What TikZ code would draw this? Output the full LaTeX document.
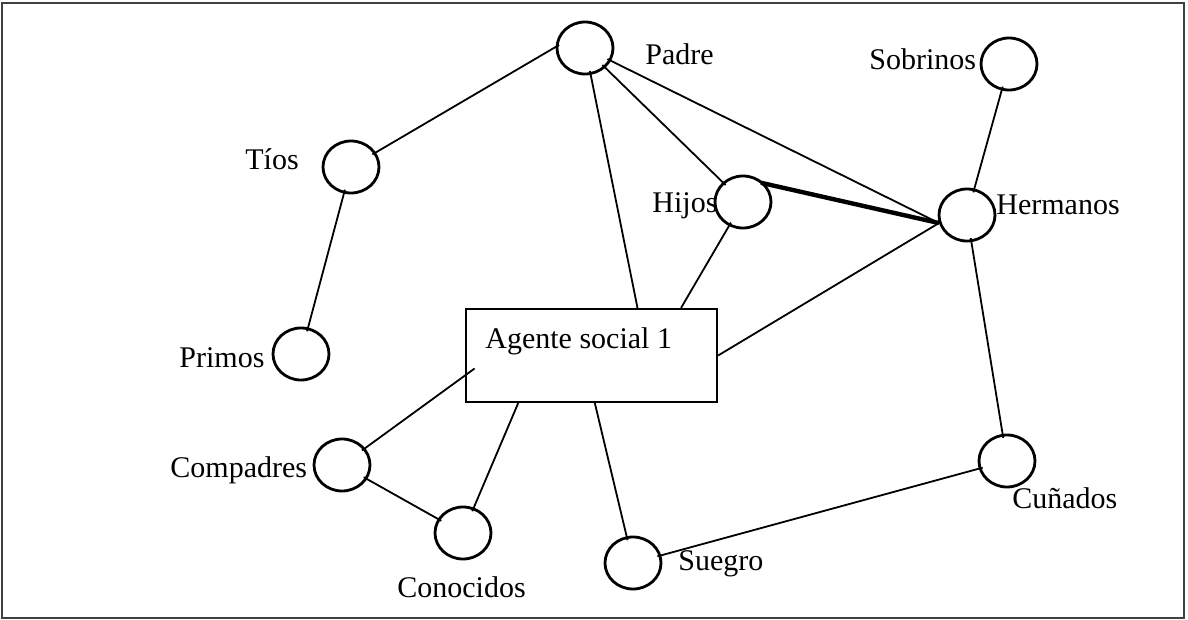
\documentclass[tikz,border=0pt]{standalone}
\usepackage{fontspec}
\setmainfont{Liberation Serif}
\usetikzlibrary{shapes.geometric}

\begin{document}
\begin{tikzpicture}[x=0.5pt,y=-0.5pt]
\tikzstyle{every node}=[inner sep=0pt, font=\fontsize{15}{18}\selectfont]
\tikzstyle{circ}=[draw, ellipse, minimum width=28pt, minimum height=26pt, line width=1.4pt]
\tikzstyle{box}=[draw, rectangle, minimum width=125.5pt, minimum height=46.5pt, line width=1.1pt]
\tikzstyle{lab}=[anchor=base west]
\tikzstyle{link}=[line width=0.9pt, shorten <=-2pt, shorten >=-2pt]
\tikzstyle{tobox}=[line width=0.9pt, shorten <=-2pt]
\useasboundingbox (0,0) rectangle (1188,620);
\draw[line width=1pt, black!75] (2,3) rectangle (1184,618);
% circles
\draw (585,48) node (padre) [circ] {};
\draw (1009,64) node (sobrinos) [circ] {};
\draw (351,167) node (tios) [circ] {};
\draw (743,202) node (hijos) [circ] {};
\draw (967,215) node (hermanos) [circ] {};
\draw (301,354) node (primos) [circ] {};
\draw (342,465) node (compadres) [circ] {};
\draw (463,533) node (conocidos) [circ] {};
\draw (633,563) node (suegro) [circ] {};
\draw (1007,461) node (cunados) [circ] {};
\draw (591.5,355.5) node (agente) [box] {};
% labels
\draw (645,65) node (padre-t) [lab] {Padre};
\draw (869,70) node (sobrinos-t) [lab] {Sobrinos};
\draw (245,170) node (tios-t) [lab] {Tíos};
\draw (652,213) node (hijos-t) [lab] {Hijos};
\draw (996,215) node (hermanos-t) [lab] {Hermanos};
\draw (179,367) node (primos-t) [lab] {Primos};
\draw (170,477) node (compadres-t) [lab] {Compadres};
\draw (397,597) node (conocidos-t) [lab] {Conocidos};
\draw (678,570) node (suegro-t) [lab] {Suegro};
\draw (1012,508) node (cunados-t) [lab] {Cuñados};
\draw (485,348) node (agente-t) [lab] {Agente social 1};
% links
\draw[link] (tios) -- (padre.178);
\draw[link] (tios) -- (primos);
\draw[link] (padre) -- (hijos);
\draw[link, shorten >=0pt] (padre) -- (hermanos.196);
\draw[tobox] (padre.282) -- (agente.46);
\draw[link, line width=2.2pt, shorten >=0pt] (hijos.40) -- (hermanos.196);
\draw[tobox] (hijos) -- (agente.28);
\draw[link] (sobrinos) -- (hermanos);
\draw[line width=0.9pt] (hermanos.196) -- (agente.east);
\draw[link] (hermanos) -- (cunados);
\draw[tobox, shorten >=-6pt] (compadres) -- (agente.189);
\draw[link] (compadres) -- (conocidos);
\draw[tobox] (conocidos) -- (agente.213);
\draw[tobox] (suegro) -- (agente.274);
\draw[link] (suegro) -- (cunados);
\end{tikzpicture}
\end{document}
